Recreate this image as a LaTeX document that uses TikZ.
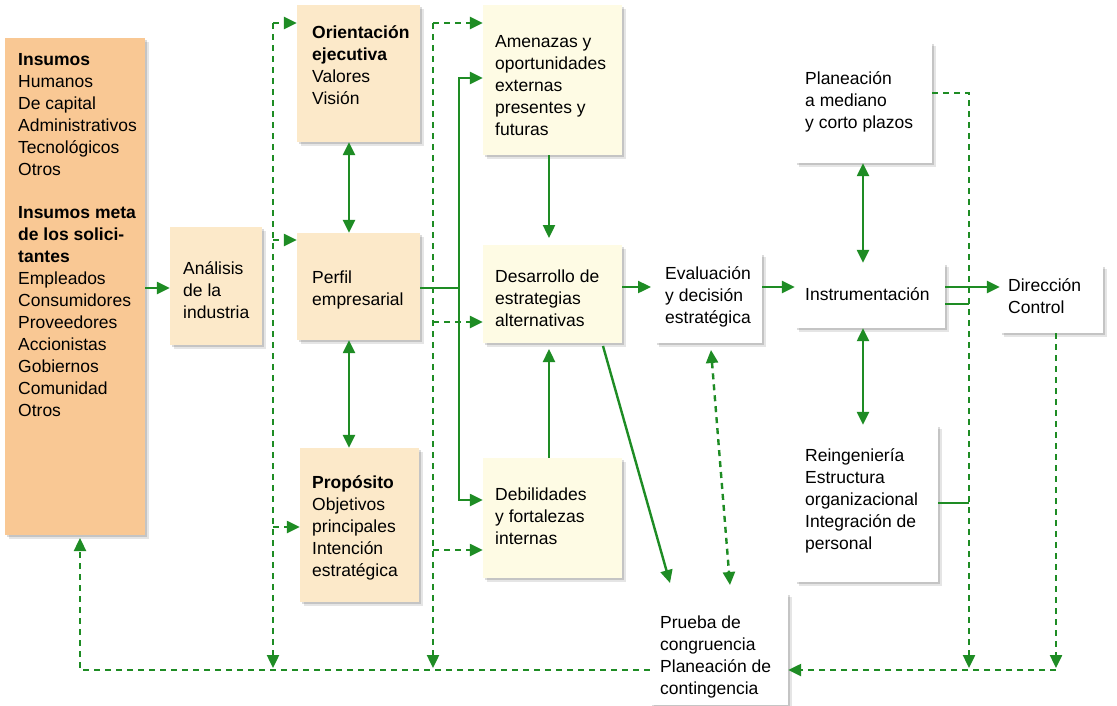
\documentclass[tikz,border=0pt]{standalone}
\usepackage{fontspec}
\setmainfont{Liberation Sans}
\usetikzlibrary{arrows.meta,shadows}
\definecolor{lgreen}{HTML}{1E8C24}
\definecolor{orbox}{HTML}{F9C894}
\definecolor{bgbox}{HTML}{FCE9C9}
\definecolor{crbox}{HTML}{FEFBE4}
\begin{document}
\begin{tikzpicture}[x=1pt,y=-1pt,
  shad/.style={general shadow={shadow xshift=4pt,shadow yshift=-4pt,fill=black,opacity=.10},
               general shadow={shadow xshift=2pt,shadow yshift=-2pt,fill=black,opacity=.14}},
  boxbase/.style={draw=none,inner sep=0pt,shad},
  orb/.style={boxbase,fill=orbox},
  bgb/.style={boxbase,fill=bgbox},
  crb/.style={boxbase,fill=crbox},
  whb/.style={boxbase,fill=white},
  txt/.style={anchor=north west,inner sep=0pt,align=left,font=\fontsize{17.5}{22}\selectfont,
              execute at begin node={\rule{0pt}{17pt}}},
  sline/.style={draw=lgreen,line width=2.4pt},
  dline/.style={draw=lgreen,line width=2.4pt,dash pattern=on 6pt off 5pt},
  tip/.style={-{Triangle[length=13pt,width=12pt]}},
  tips/.style={{Triangle[length=13pt,width=12pt]}-{Triangle[length=13pt,width=12pt]}},
]
\path[use as bounding box] (0,0) rectangle (1117,705);
\fill[white] (0,0) rectangle (1117,705);

% boxes
\node[orb,minimum width=140pt,minimum height=497pt] (ins) at (75,286.5) {};
\node[bgb,minimum width=92pt,minimum height=118pt] (ana) at (216,286) {};
\node[bgb,minimum width=123pt,minimum height=137pt] (ori) at (358.5,73.5) {};
\node[bgb,minimum width=123pt,minimum height=107pt] (per) at (358.5,286.5) {};
\node[bgb,minimum width=119pt,minimum height=154pt] (pro) at (359.5,525) {};
\node[crb,minimum width=139pt,minimum height=150pt] (ame) at (552.5,80) {};
\node[crb,minimum width=139pt,minimum height=98pt] (des) at (552.5,294) {};
\node[crb,minimum width=139pt,minimum height=120pt] (deb) at (552.5,518) {};
\node[whb,minimum width=107pt,minimum height=90pt] (eva) at (708.5,298) {};
\node[whb,minimum width=138pt,minimum height=112pt] (pru) at (719,649) {};
\node[whb,minimum width=137pt,minimum height=121pt] (pla) at (863.5,102.5) {};
\node[whb,minimum width=150pt,minimum height=65pt] (imp) at (870,295.5) {};
\node[whb,minimum width=143pt,minimum height=157pt] (rei) at (866.5,503.5) {};
\node[whb,minimum width=103pt,minimum height=68pt] (dir) at (1051.5,299) {};

% texts
\node[txt] (tins) at (18,53) {\textbf{Insumos}\\Humanos\\De capital\\Administrativos\\Tecnológicos\\Otros\\[21pt]\textbf{Insumos meta}\\\textbf{de los solici-}\\\textbf{tantes}\\Empleados\\Consumidores\\Proveedores\\Accionistas\\Gobiernos\\Comunidad\\Otros};
\node[txt] (tana) at (183,261) {Análisis\\de la\\industria};
\node[txt] (tori) at (312,25) {\textbf{Orientación}\\\textbf{ejecutiva}\\Valores\\Visión};
\node[txt] (tper) at (312,271) {Perfil\\empresarial};
\node[txt] (tpro) at (312,475) {\textbf{Propósito}\\Objetivos\\principales\\Intención\\estratégica};
\node[txt] (tame) at (495,35) {Amenazas y\\oportunidades\\externas\\presentes y\\futuras};
\node[txt] (tdes) at (495,270) {Desarrollo de\\estrategias\\alternativas};
\node[txt] (tdeb) at (495,488) {Debilidades\\y fortalezas\\internas};
\node[txt] (teva) at (665,266) {Evaluación\\y decisión\\estratégica};
\node[txt] (tpru) at (660,616) {Prueba de\\congruencia\\Planeación de\\contingencia};
\node[txt] (tpla) at (805,71) {Planeación\\a mediano\\y corto plazos};
\node[txt] (timp) at (805,283) {Instrumentación};
\node[txt] (trei) at (805,448) {Reingeniería\\Estructura\\organizacional\\Integración de\\personal};
\node[txt] (tdir) at (1008,278) {Dirección\\Control};

% bend coordinates
\coordinate (a1) at (273,23);
\coordinate (b1) at (433,23);
\coordinate (c1) at (459,288);
\coordinate (e1) at (969,93);
\coordinate (f1) at (1056,670);
\coordinate (g1) at (80,670);

% solid connectors
\draw[sline,tip] (ins.east |- 0,288) -- (ana.west |- 0,288);
\draw[sline,tips] (ori.south -| 349,0) -- (per.north -| 349,0);
\draw[sline,tips] (per.south -| 349,0) -- (pro.north -| 349,0);
\draw[sline] (per.east |- c1) -- (c1);
\draw[sline,tip] (c1) |- (ame.west |- 0,78);
\draw[sline,tip] (c1) |- (deb.west |- 0,500);
\draw[sline,tip] (ame.south -| 549,0) -- (549,238);
\draw[sline,tip] (deb.north -| 549,0) -- (549,349);
\draw[sline,tip] (des.east |- 0,287) -- (651,287);
\draw[sline,tip] (eva.east |- 0,287) -- (imp.west |- 0,287);
\draw[sline,tip] (603,346) -- (670,583);
\draw[sline,tips] (pla.south -| 863,0) -- (imp.north -| 863,0);
\draw[sline,tips] (imp.south -| 863,0) -- (rei.north -| 863,0);
\draw[sline,tip] (imp.east |- 0,287) -- (dir.west |- 0,287);
\draw[sline] (imp.east |- 0,304) -- (969,304);
\draw[sline] (rei.east |- 0,503) -- (969,503);

% dashed connectors
\draw[dline,tip] (a1) -- (273,668);
\draw[dline,tip] (a1) -- (ori.west |- a1);
\draw[dline,tip] (273,240) -- (per.west |- 0,240);
\draw[dline,tip] (273,527) -- (pro.west |- 0,527);
\draw[dline,tip] (b1) -- (433,668);
\draw[dline,tip] (b1) -- (ame.west |- b1);
\draw[dline,tip] (433,322) -- (des.west |- 0,322);
\draw[dline,tip] (433,550) -- (deb.west |- 0,550);
\draw[dline,tips] (711,350) -- (730,585);
\draw[dline,tip] (pla.east |- e1) -- (e1) -- (969,668);
\draw[dline,tip] (dir.south -| f1) -- (1056,668);
\draw[dline,tip] (f1) -- (pru.east |- f1);
\draw[dline,tip] (pru.west |- g1) -- (g1) -- (80,538);
\end{tikzpicture}
\end{document}
